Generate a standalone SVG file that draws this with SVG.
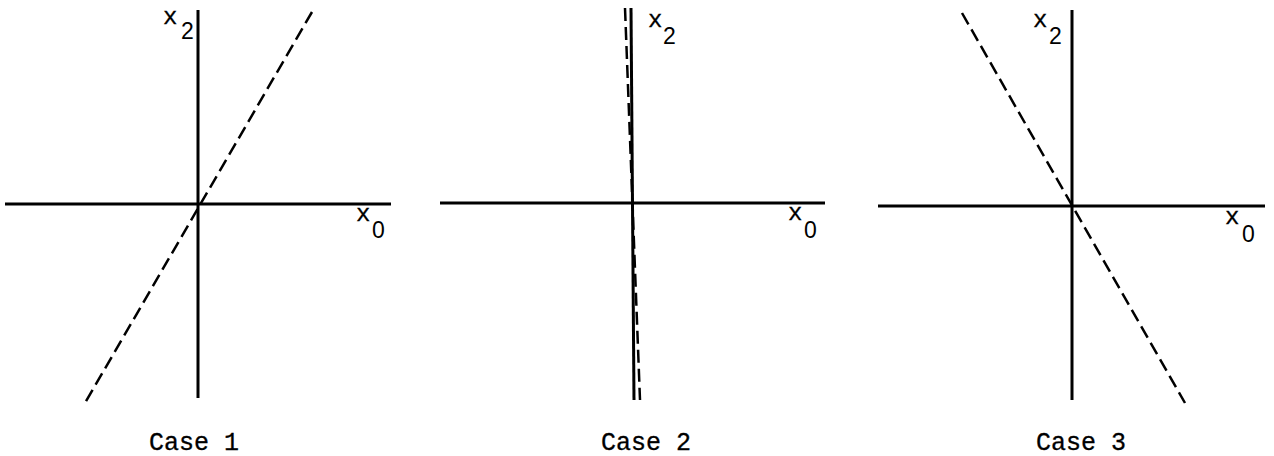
<svg xmlns="http://www.w3.org/2000/svg" width="1274" height="456" viewBox="0 0 1274 456">
<style>
.axis{stroke:#000;stroke-width:3;fill:none}
.dash{stroke:#000;stroke-width:2.5;fill:none;stroke-dasharray:13 6}
.xv{font-family:"Liberation Mono",monospace;font-size:24px;fill:#000;stroke:#000;stroke-width:0.3}
.sub{font-family:"Liberation Sans",sans-serif;font-size:23px;fill:#000}
.cap{font-family:"Liberation Mono",monospace;font-size:25px;fill:#000;stroke:#000;stroke-width:0.3}
</style>
<rect width="1274" height="456" fill="#fff"/>
<g id="case1">
<line class="axis" x1="198" y1="10" x2="198" y2="398"/>
<line class="axis" x1="5" y1="204" x2="391" y2="204"/>
<text class="xv" x="163" y="24">x</text><text class="sub" x="181" y="39">2</text>
<text class="xv" x="356" y="221">x</text><text class="sub" x="372" y="238">0</text>
<text class="cap" x="149" y="450">Case 1</text>
</g>
<g id="case2">
<line class="axis" x1="631" y1="8" x2="634" y2="400"/>
<line class="axis" x1="440" y1="203" x2="825" y2="203"/>
<text class="xv" x="648" y="27">x</text><text class="sub" x="663" y="44">2</text>
<text class="xv" x="788" y="220">x</text><text class="sub" x="804" y="238">0</text>
<text class="cap" x="601" y="450">Case 2</text>
</g>
<g id="case3">
<line class="axis" x1="1072" y1="10" x2="1072" y2="400"/>
<line class="axis" x1="878" y1="206" x2="1265" y2="206"/>
<text class="xv" x="1033" y="27">x</text><text class="sub" x="1049" y="44">2</text>
<text class="xv" x="1225" y="224">x</text><text class="sub" x="1242" y="242">0</text>
<text class="cap" x="1036" y="450">Case 3</text>
</g>
<g id="connectors">
<line class="dash" x1="312" y1="12" x2="85" y2="403"/>
<line class="dash" x1="625" y1="8" x2="640" y2="400"/>
<line class="dash" x1="962" y1="13" x2="1185" y2="403"/>
</g>
</svg>
